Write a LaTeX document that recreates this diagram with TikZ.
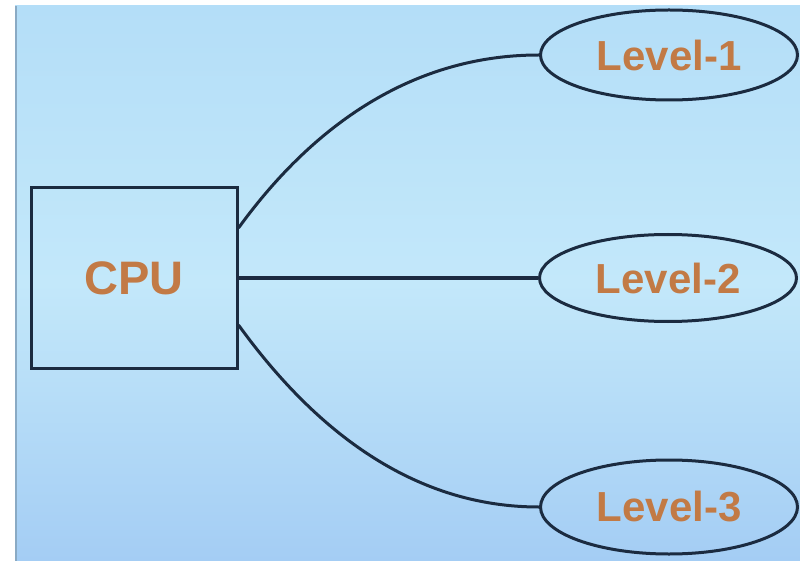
\documentclass[tikz,border=0pt]{standalone}
\usepackage{fontspec}
\setmainfont{Liberation Sans}
\usetikzlibrary{shapes.geometric}
\definecolor{bgtop}{HTML}{B4DEF8}
\definecolor{bgmid}{HTML}{C3E8FA}
\definecolor{bgbot}{HTML}{A4CDF4}
\definecolor{edgeline}{HTML}{1B2B40}
\definecolor{labelcol}{HTML}{C27A45}
\definecolor{stripline}{HTML}{8AAAC4}
\tikzset{
  boxnode/.style={draw=edgeline, line width=3pt, rectangle, minimum width=206pt, minimum height=180pt, inner sep=0pt,
    text=labelcol, font=\fontsize{47}{56}\selectfont\bfseries},
  levelnode/.style={draw=edgeline, line width=3pt, ellipse, minimum width=257pt, minimum height=90pt, inner sep=0pt,
    text=labelcol, font=\fontsize{42}{50}\selectfont\bfseries},
  link/.style={draw=edgeline, line width=3pt}
}
\begin{document}
\begin{tikzpicture}[x=1pt,y=-1pt]
\useasboundingbox (0,0) rectangle (800,561);
\fill[white] (0,0) rectangle (800,561);
\shade[top color=bgtop, bottom color=bgbot, middle color=bgmid] (15,6) rectangle (800,561);
\draw[stripline, line width=2pt] (16,6) -- (16,561);
\node[boxnode] (cpu) at (134,278) {CPU};
\node[levelnode] (l1) at (669,55) {Level-1};
\node[levelnode, minimum height=87pt] (l2) at (668,278) {Level-2};
\node[levelnode, minimum height=94pt] (l3) at (669,507) {Level-3};
\draw[link] ([yshift=50pt]cpu.east) .. controls +(63,-87) and +(-140,0) .. (l1.west);
\draw[link] (cpu.east) -- (l2.west);
\draw[link] ([yshift=-47pt]cpu.east) .. controls +(63,87) and +(-140,0) .. (l3.west);
\end{tikzpicture}
\end{document}
